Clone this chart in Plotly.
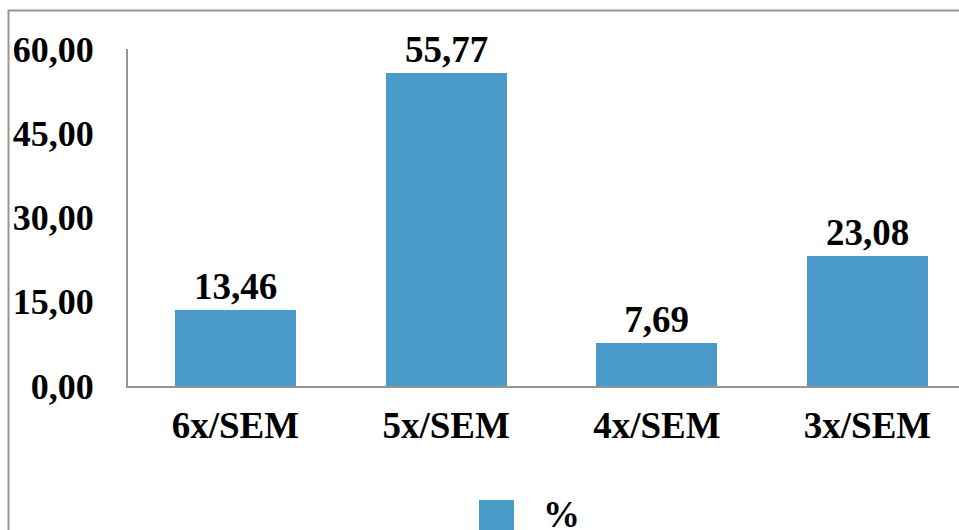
import plotly.graph_objects as go

categories = ["6x/SEM", "5x/SEM", "4x/SEM", "3x/SEM"]
values = [13.46, 55.77, 7.69, 23.08]
series_name = "%"
y_ticks = [0, 15, 30, 45, 60]

W, H = 959, 530
L, R, T, B = 128, 0, 49, 144
pw, ph = W - L - R, H - T - B

def px(x):
    return (x - L) / pw

def py(y):
    return (H - B - y) / ph

FONT = "Liberation Serif"
BAR = "#4A9BC9"
GRAY = "#959595"

labels = [f"{v:.2f}".replace(".", ",") for v in values]

fig = go.Figure()
fig.add_trace(go.Bar(
    x=categories, y=values, name=series_name,
    marker=dict(color=BAR, line=dict(width=0)),
    width=0.574,
    text=labels, textposition="outside",
    textfont=dict(family=FONT, size=37, color="black"),
    cliponaxis=False, showlegend=False,
))

fig.update_layout(
    width=W, height=H,
    margin=dict(l=L, r=R, t=T, b=B, pad=0),
    paper_bgcolor="white", plot_bgcolor="white",
    separators=",.",
    font=dict(family=FONT, size=37, color="black", weight="bold"),
    bargap=0,
    xaxis=dict(
        type="category", range=[-0.51, 3.434], autorange=False,
        showline=True, linecolor=GRAY, linewidth=2,
        showgrid=False, zeroline=False, ticks="",
        tickfont=dict(family=FONT, size=37, color="black", weight="bold"),
        ticklabelstandoff=6,
    ),
    yaxis=dict(
        range=[0, 60], autorange=False,
        tickvals=y_ticks, tickformat=".2f",
        showline=True, linecolor=GRAY, linewidth=2,
        showgrid=False, zeroline=False, ticks="",
        tickfont=dict(family=FONT, size=36, color="black", weight="bold"),
        ticklabelstandoff=25,
    ),
)

# chart frame (cropped at right and bottom)
fig.add_shape(type="path", xref="paper", yref="paper",
              path=f"M {px(8.5)} {py(545)} L {px(8.5)} {py(10.5)} L {px(975)} {py(10.5)}",
              line=dict(color=GRAY, width=2))

# legend
fig.add_shape(type="rect", xref="paper", yref="paper",
              x0=px(479), x1=px(514), y0=py(500), y1=py(535),
              fillcolor=BAR, line=dict(width=0))
fig.add_annotation(xref="paper", yref="paper", x=px(541), y=py(514),
                   xanchor="left", yanchor="middle", showarrow=False,
                   text=series_name,
                   font=dict(family=FONT, size=37, color="black", weight="bold"))

fig.write_html("out.html")
